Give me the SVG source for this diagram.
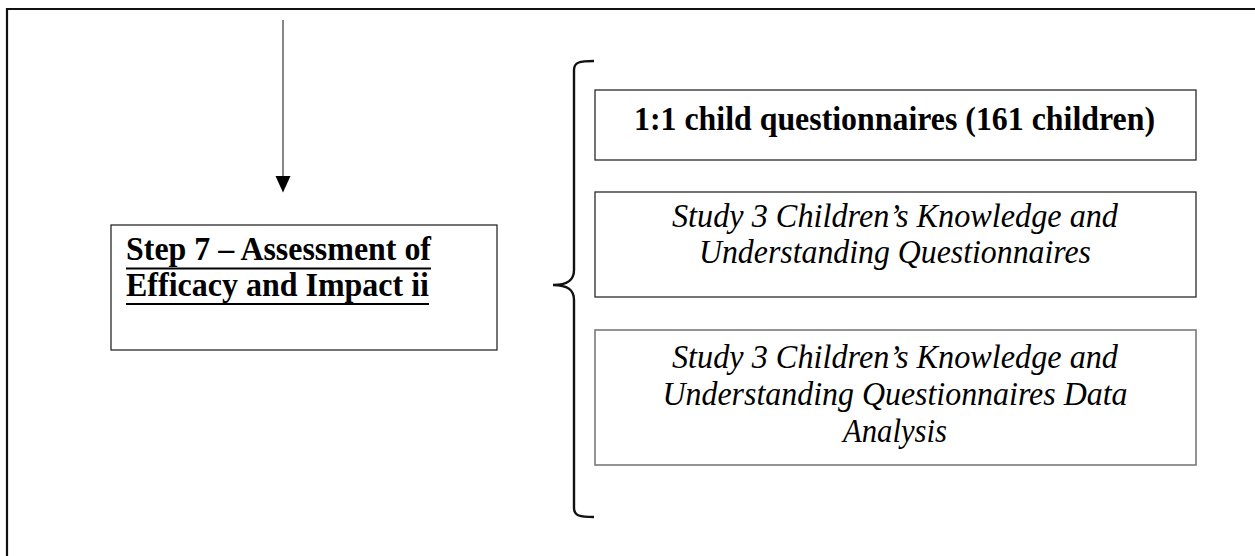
<svg xmlns="http://www.w3.org/2000/svg" width="1255" height="556" viewBox="0 0 1255 556">
  <style>
    .box { fill: #ffffff; stroke: #2a2a2a; stroke-width: 1.3; }
    .box.light { stroke: #7a7a7a; stroke-width: 1.6; }
    .frame { fill: none; stroke: #111111; stroke-width: 2.2; }
    .bold { font-family: "Liberation Serif", "Times New Roman", serif; font-weight: bold; font-size: 34px; fill: #000; }
    .ital { font-family: "Liberation Serif", "Times New Roman", serif; font-style: italic; font-size: 34px; fill: #000; }
    .uline { stroke: #000; stroke-width: 2; }
    .edge { fill: none; stroke: #555555; stroke-width: 1.4; }
    .brace { fill: none; stroke: #111111; stroke-width: 2.4; }
  </style>
  <rect width="1255" height="556" fill="#ffffff"/>

  <!-- outer page frame (continues past the right and bottom edges) -->
  <path class="frame" d="M7,600 L7,9 L1300,9"/>

  <g id="connectors">
    <line class="edge" x1="283" y1="20" x2="283" y2="177" />
    <path d="M275.5,176 L290.5,176 L283,192.5 Z" fill="#000"/>
    <!-- curly brace grouping the three outputs -->
    <path class="brace" d="M594,61 C580,61 574,62 574,70 L574,270 C574,280 568,285 553,285 C568,285 574,290 574,300 L574,508 C574,516 580,517 594,517"/>
  </g>

  <g id="step7">
    <rect class="box" x="111" y="225" width="386" height="125"/>
    <text class="bold" x="126" y="260" textLength="305" lengthAdjust="spacingAndGlyphs">Step 7 – Assessment of</text>
    <line class="uline" x1="126" y1="268.5" x2="431" y2="268.5"/>
    <text class="bold" x="126" y="296" textLength="303" lengthAdjust="spacingAndGlyphs">Efficacy and Impact ii</text>
    <line class="uline" x1="126" y1="304" x2="429" y2="304"/>
  </g>

  <g id="questionnaires">
    <rect class="box" x="595" y="90" width="601" height="70"/>
    <text class="bold" x="894.5" y="130" text-anchor="middle" textLength="521" lengthAdjust="spacingAndGlyphs">1:1 child questionnaires (161 children)</text>
  </g>

  <g id="study3-questionnaires">
    <rect class="box" x="595" y="192" width="601" height="105"/>
    <text class="ital" x="895" y="227" text-anchor="middle" textLength="446" lengthAdjust="spacingAndGlyphs">Study 3 Children’s Knowledge and</text>
    <text class="ital" x="895" y="263" text-anchor="middle" textLength="392" lengthAdjust="spacingAndGlyphs">Understanding Questionnaires</text>
  </g>

  <g id="study3-analysis">
    <rect class="box light" x="595" y="330" width="601" height="135"/>
    <text class="ital" x="895" y="368" text-anchor="middle" textLength="446" lengthAdjust="spacingAndGlyphs">Study 3 Children’s Knowledge and</text>
    <text class="ital" x="895" y="405" text-anchor="middle" textLength="465" lengthAdjust="spacingAndGlyphs">Understanding Questionnaires Data</text>
    <text class="ital" x="895" y="442" text-anchor="middle" textLength="104" lengthAdjust="spacingAndGlyphs">Analysis</text>
  </g>
</svg>
